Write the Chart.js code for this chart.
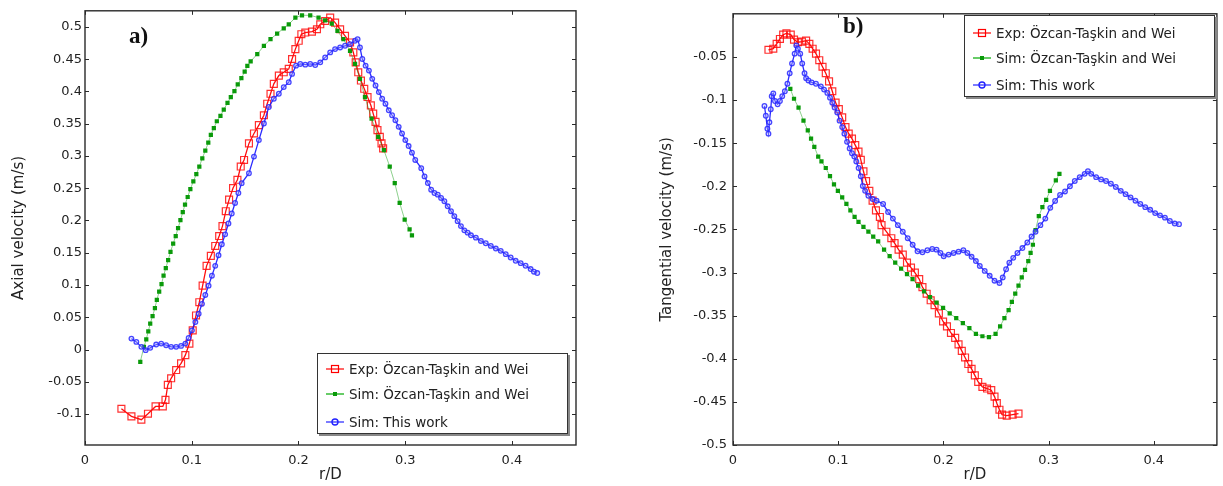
<!DOCTYPE html>
<html><head><meta charset="utf-8">
<script src="https://cdn.jsdelivr.net/npm/chart.js@4"></script>
<style>
body{margin:0;background:#fff;width:1223px;height:486px;overflow:hidden;position:relative;}
canvas{position:absolute;top:0;}
#ca{left:0}
#cb{left:610px}
.lbl{position:absolute;font:bold 23px "Liberation Serif";color:#111;line-height:1;}
.leg{position:absolute;background:#fff;border:1px solid #333;box-shadow:2px 2px 0 #888;}
.row{position:absolute;left:0;height:20px;display:flex;align-items:center;font:13.5px "DejaVu Sans";color:#222;white-space:nowrap}
.row svg{margin-left:8px;margin-right:5px}
</style></head>
<body>
<canvas id="ca" width="600" height="486"></canvas>
<canvas id="cb" width="613" height="486"></canvas>
<div class="lbl" style="left:129px;top:24px">a)</div>
<div class="lbl" style="left:843px;top:14px">b)</div>
<div class="leg" id="legA" style="left:317px;top:353px;width:249px;height:79px"></div>
<div class="leg" id="legB" style="left:964px;top:15px;width:249px;height:80px"></div>
<script>
// ---- tick labels ----
const xTicks = [0, 0.1, 0.2, 0.3, 0.4];
const yTicksA = [-0.1, -0.05, 0, 0.05, 0.1, 0.15, 0.2, 0.25, 0.3, 0.35, 0.4, 0.45, 0.5];
const yTicksB = [-0.5, -0.45, -0.4, -0.35, -0.3, -0.25, -0.2, -0.15, -0.1, -0.05];
const seriesNames = ['Exp: Özcan-Taşkin and Wei', 'Sim: Özcan-Taşkin and Wei', 'Sim: This work'];

// ---- panel a) axial velocity ----
const aExpR = [0.0341,0.0435,0.0528,0.0590,0.0661,0.0729,0.0754,0.0776,0.0807,0.0854,0.0900,0.0940,0.0978,0.1009,0.1040,0.1071,0.1102,0.1139,0.1179,0.1220,0.1257,0.1288,0.1319,0.1350,0.1387,0.1428,0.1459,0.1490,0.1536,0.1583,0.1629,0.1676,0.1707,0.1738,0.1769,0.1816,0.1862,0.1909,0.1940,0.1971,0.2002,0.2027,0.2064,0.2126,0.2173,0.2204,0.2250,0.2297,0.2343,0.2390,0.2436,0.2483,0.2514,0.2536,0.2560,0.2585,0.2616,0.2647,0.2678,0.2700,0.2722,0.2740,0.2762,0.2778,0.2793];
const aExpV = [-0.0918,-0.1036,-0.1087,-0.0995,-0.0882,-0.0882,-0.078,-0.0549,-0.0446,-0.0318,-0.0215,-0.0087,0.0092,0.0297,0.0528,0.0733,0.099,0.1297,0.1451,0.1605,0.1759,0.1913,0.2144,0.2323,0.2503,0.2631,0.2836,0.2938,0.3195,0.3349,0.3477,0.3631,0.381,0.3964,0.4118,0.4246,0.4297,0.4349,0.4503,0.4656,0.4785,0.4887,0.4913,0.4928,0.4964,0.5041,0.5092,0.5144,0.5067,0.4964,0.4862,0.4759,0.4605,0.4451,0.4297,0.4169,0.4041,0.3913,0.3785,0.3656,0.3528,0.34,0.3297,0.3195,0.3118];

const aSimR = [0.0518,0.0552,0.0574,0.0593,0.0611,0.0633,0.0655,0.0673,0.0695,0.0717,0.0736,0.0757,0.0779,0.0801,0.0826,0.0850,0.0872,0.0894,0.0916,0.0937,0.0962,0.0987,0.1015,0.1043,0.1071,0.1099,0.1127,0.1155,0.1179,0.1207,0.1235,0.1269,0.1300,0.1335,0.1366,0.1400,0.1431,0.1465,0.1496,0.1521,0.1552,0.1614,0.1676,0.1738,0.1800,0.1862,0.1909,0.1971,0.2033,0.2110,0.2188,0.2250,0.2312,0.2365,0.2421,0.2483,0.2530,0.2576,0.2623,0.2685,0.2747,0.2800,0.2855,0.2902,0.2948,0.2995,0.3041,0.3063];
const aSimV = [-0.019,0.004,0.0159,0.0282,0.04,0.0518,0.0641,0.0769,0.0897,0.1015,0.1144,0.1262,0.1385,0.1513,0.1641,0.1759,0.1882,0.2005,0.2128,0.2246,0.2364,0.2487,0.2605,0.2718,0.2836,0.2964,0.3082,0.3205,0.3328,0.3431,0.3538,0.3621,0.3718,0.3821,0.3913,0.4005,0.4108,0.4205,0.4308,0.4395,0.4467,0.4579,0.4708,0.481,0.4897,0.4979,0.5041,0.5144,0.518,0.518,0.5144,0.5103,0.5051,0.4938,0.481,0.463,0.4426,0.4195,0.3913,0.358,0.3297,0.3092,0.2836,0.258,0.2272,0.2015,0.1862,0.177];

const aOwnR = [0.0435,0.0481,0.0528,0.0568,0.0611,0.0667,0.0714,0.0760,0.0807,0.0854,0.0900,0.0940,0.0971,0.1002,0.1034,0.1065,0.1096,0.1127,0.1158,0.1189,0.1220,0.1251,0.1282,0.1313,0.1344,0.1375,0.1406,0.1437,0.1468,0.1536,0.1583,0.1629,0.1676,0.1722,0.1769,0.1816,0.1862,0.1909,0.1940,0.1977,0.2017,0.2064,0.2110,0.2157,0.2204,0.2250,0.2297,0.2343,0.2390,0.2436,0.2483,0.2529,0.2554,0.2576,0.2598,0.2629,0.2660,0.2691,0.2722,0.2753,0.2784,0.2815,0.2846,0.2877,0.2908,0.2939,0.2970,0.3001,0.3032,0.3063,0.3094,0.3150,0.3181,0.3212,0.3243,0.3274,0.3305,0.3336,0.3367,0.3398,0.3429,0.3460,0.3491,0.3522,0.3554,0.3585,0.3616,0.3662,0.3709,0.3755,0.3802,0.3849,0.3895,0.3942,0.3988,0.4035,0.4082,0.4128,0.4175,0.4206,0.4237];
const aOwnV = [0.0169,0.0118,0.0041,-0.001,0.0026,0.0077,0.0092,0.0067,0.0041,0.0041,0.0056,0.0092,0.0179,0.0297,0.0426,0.0554,0.0708,0.0846,0.099,0.1144,0.1297,0.1462,0.1631,0.1785,0.1954,0.2108,0.2272,0.2426,0.2579,0.2733,0.299,0.3246,0.3503,0.3759,0.3887,0.3964,0.4067,0.4144,0.4272,0.44,0.4426,0.4415,0.4426,0.441,0.4451,0.4528,0.4605,0.4656,0.4682,0.4708,0.4733,0.4785,0.481,0.4682,0.4503,0.44,0.4323,0.4195,0.4092,0.399,0.3887,0.381,0.3708,0.3631,0.3554,0.3451,0.3349,0.3246,0.3154,0.3051,0.2938,0.2811,0.2683,0.258,0.2477,0.2426,0.24,0.2349,0.2298,0.222,0.2144,0.2067,0.199,0.1913,0.1847,0.1811,0.177,0.1734,0.1683,0.1647,0.1606,0.1565,0.1529,0.1478,0.1426,0.1375,0.1339,0.1298,0.1247,0.1206,0.1185];

// ---- panel b) tangential velocity ----
const bExpR = [0.0337,0.0383,0.0415,0.0446,0.0477,0.0508,0.0549,0.0580,0.0617,0.0655,0.0695,0.0726,0.0757,0.0789,0.0820,0.0851,0.0882,0.0913,0.0944,0.0975,0.1006,0.1038,0.1069,0.1100,0.1131,0.1162,0.1193,0.1215,0.1240,0.1265,0.1296,0.1327,0.1359,0.1396,0.1412,0.1458,0.1505,0.1536,0.1574,0.1614,0.1654,0.1692,0.1729,0.1770,0.1801,0.1841,0.1879,0.1916,0.1957,0.1997,0.2034,0.2072,0.2112,0.2144,0.2175,0.2206,0.2237,0.2268,0.2299,0.2331,0.2371,0.2415,0.2455,0.2486,0.2508,0.2533,0.2558,0.2602,0.2658,0.2714];
const bExpV = [-0.0417,-0.0405,-0.0348,-0.0292,-0.0242,-0.0227,-0.0242,-0.0299,-0.033,-0.0322,-0.0311,-0.0348,-0.0405,-0.0462,-0.0538,-0.0614,-0.0689,-0.0784,-0.0898,-0.103,-0.1106,-0.1201,-0.1314,-0.139,-0.1447,-0.1523,-0.1598,-0.1693,-0.1826,-0.1939,-0.2053,-0.2167,-0.228,-0.2356,-0.2451,-0.2527,-0.2602,-0.2659,-0.2735,-0.2792,-0.2886,-0.2943,-0.3,-0.3076,-0.317,-0.3246,-0.3322,-0.3379,-0.3473,-0.3568,-0.3625,-0.3701,-0.3758,-0.3833,-0.3909,-0.3985,-0.4061,-0.4117,-0.4193,-0.4269,-0.4326,-0.4345,-0.4364,-0.4439,-0.4515,-0.4591,-0.4648,-0.4659,-0.4648,-0.4636];

const bSimR = [0.0545,0.0580,0.0623,0.0670,0.0711,0.0742,0.0773,0.0810,0.0841,0.0882,0.0922,0.0960,0.0997,0.1038,0.1078,0.1116,0.1156,0.1193,0.1240,0.1287,0.1333,0.1380,0.1436,0.1489,0.1542,0.1598,0.1654,0.1707,0.1760,0.1816,0.1873,0.1935,0.1997,0.2060,0.2122,0.2185,0.2247,0.2309,0.2371,0.2433,0.2496,0.2539,0.2580,0.2620,0.2651,0.2683,0.2714,0.2745,0.2776,0.2807,0.2829,0.2851,0.2876,0.2907,0.2941,0.2977,0.3013,0.3069,0.3103];
const bSimV = [-0.0871,-0.0985,-0.1087,-0.1239,-0.1352,-0.1447,-0.1542,-0.1655,-0.1712,-0.1788,-0.1883,-0.1977,-0.2053,-0.2129,-0.2205,-0.228,-0.2356,-0.2413,-0.247,-0.2527,-0.2583,-0.264,-0.2735,-0.2811,-0.2886,-0.2955,-0.3019,-0.3076,-0.3152,-0.322,-0.3284,-0.3348,-0.3409,-0.3473,-0.353,-0.3587,-0.3644,-0.3712,-0.3739,-0.375,-0.3712,-0.3625,-0.353,-0.3436,-0.3341,-0.3246,-0.3152,-0.3057,-0.297,-0.2867,-0.2773,-0.2678,-0.2507,-0.2347,-0.2243,-0.2158,-0.2053,-0.1932,-0.1856];

const bOwnR = [0.0299,0.0312,0.0327,0.0337,0.0346,0.0359,0.0368,0.0383,0.0399,0.0424,0.0446,0.0468,0.0493,0.0517,0.0539,0.0561,0.0586,0.0602,0.0617,0.0639,0.0658,0.0680,0.0695,0.0717,0.0748,0.0789,0.0835,0.0866,0.0897,0.0922,0.0944,0.0966,0.0991,0.1013,0.1038,0.1059,0.1084,0.1109,0.1131,0.1153,0.1172,0.1194,0.1215,0.1234,0.1256,0.1287,0.1327,0.1365,0.1427,0.1474,0.1520,0.1567,0.1614,0.1661,0.1708,0.1754,0.1801,0.1848,0.1894,0.1935,0.1972,0.2003,0.2050,0.2097,0.2144,0.2190,0.2228,0.2268,0.2309,0.2346,0.2393,0.2440,0.2486,0.2533,0.2564,0.2596,0.2627,0.2664,0.2704,0.2751,0.2798,0.2838,0.2876,0.2922,0.2969,0.3016,0.3062,0.3109,0.3156,0.3203,0.3249,0.3296,0.3343,0.3374,0.3405,0.3452,0.3499,0.3546,0.3592,0.3639,0.3686,0.3732,0.3779,0.3826,0.3872,0.3919,0.3966,0.4013,0.4059,0.4106,0.4153,0.4199,0.4240];
const bOwnV = [-0.1068,-0.1182,-0.1333,-0.139,-0.1258,-0.1106,-0.0955,-0.0924,-0.1011,-0.1049,-0.1011,-0.0955,-0.0898,-0.0811,-0.0689,-0.0576,-0.0462,-0.0367,-0.0405,-0.0462,-0.0576,-0.0689,-0.0746,-0.0773,-0.0795,-0.0811,-0.0841,-0.0879,-0.0917,-0.0973,-0.103,-0.1087,-0.1144,-0.1239,-0.1314,-0.139,-0.1485,-0.1561,-0.1617,-0.1655,-0.1712,-0.1788,-0.1883,-0.1996,-0.2053,-0.211,-0.2148,-0.2167,-0.2205,-0.2299,-0.2375,-0.2451,-0.2527,-0.2602,-0.2678,-0.2754,-0.2765,-0.2742,-0.2727,-0.2735,-0.2773,-0.2811,-0.2792,-0.2773,-0.2758,-0.2742,-0.2773,-0.2818,-0.2867,-0.2924,-0.2981,-0.3038,-0.3095,-0.3121,-0.3057,-0.2962,-0.2886,-0.283,-0.2773,-0.2716,-0.2652,-0.2583,-0.2527,-0.2451,-0.2375,-0.225,-0.217,-0.21,-0.206,-0.2,-0.1939,-0.1894,-0.1856,-0.1826,-0.1856,-0.1894,-0.192,-0.1939,-0.197,-0.2008,-0.2053,-0.2091,-0.2129,-0.2167,-0.2205,-0.2242,-0.2273,-0.2311,-0.2337,-0.2364,-0.2402,-0.2432,-0.2439];

// ---- styles ----
const STY = [
  {line:'rgba(255,0,0,0.95)', lw:1.3, pt:'rect', r:4.9, fill:'rgba(255,255,255,0)', stroke:'rgba(255,10,10,0.85)', bw:1.2, order:2},
  {line:'rgba(0,150,0,0.45)', lw:1, pt:'rect', r:3.0, fill:'#0a9a0a', stroke:'#0a9a0a', bw:0, order:1},
  {line:'rgba(20,20,255,0.9)', lw:1.3, pt:'circle', r:2.3, fill:'rgba(190,190,255,0.35)', stroke:'rgba(40,40,255,0.85)', bw:1.3, order:0}
];
const FONT = 'DejaVu Sans';
const TXT = '#222';

function pts(r, v){ return r.map((x,i)=>({x:x, y:v[i]})); }
function ds(i, r, v){
  const s = STY[i];
  return {label:seriesNames[i], data:pts(r,v), showLine:true, borderColor:s.line, borderWidth:s.lw,
    pointStyle:s.pt, pointRadius:s.r, pointHoverRadius:s.r, pointBackgroundColor:s.fill,
    pointBorderColor:s.stroke, pointBorderWidth:s.bw, order:s.order, tension:0};
}

const frame = {id:'frame', afterDraw(chart){
  const {ctx, chartArea:a, scales:{x, y}} = chart;
  ctx.save();
  ctx.strokeStyle = '#2a2a2a';
  ctx.lineWidth = 1.4;
  ctx.strokeRect(a.left, a.top, a.right - a.left, a.bottom - a.top);
  ctx.lineWidth = 1;
  ctx.beginPath();
  x.ticks.forEach(t=>{
    const p = Math.round(x.getPixelForValue(t.value)) + 0.5;
    ctx.moveTo(p, a.bottom); ctx.lineTo(p, a.bottom - 4);
    ctx.moveTo(p, a.top); ctx.lineTo(p, a.top + 4);
  });
  y.ticks.forEach(t=>{
    const p = Math.round(y.getPixelForValue(t.value)) + 0.5;
    ctx.moveTo(a.left, p); ctx.lineTo(a.left + 4, p);
    ctx.moveTo(a.right, p); ctx.lineTo(a.right - 4, p);
  });
  ctx.stroke();
  ctx.restore();
}};

function makeChart(id, datasets, yMin, yMax, yTicks, yTitle, yWidth, yTitlePad, yTickPad, padRight, padTop){
  return new Chart(document.getElementById(id), {
    type:'scatter',
    data:{datasets:datasets},
    options:{
      responsive:false, animation:false, devicePixelRatio:1,
      layout:{padding:{left:0, right:padRight, top:padTop, bottom:0}},
      plugins:{legend:{display:false}, tooltip:{enabled:false}},
      scales:{
        x:{type:'linear', min:0, max:0.46,
          afterBuildTicks:s=>{ s.ticks = xTicks.map(v=>({value:v})); },
          afterFit:s=>{ s.height = 41; },
          grid:{display:false, drawTicks:false}, border:{display:false},
          ticks:{font:{family:FONT, size:13}, color:TXT, padding:8, maxRotation:0, autoSkip:false, callback:v=>String(v)},
          title:{display:true, text:'r/D', font:{family:FONT, size:15}, color:TXT, padding:{top:0, bottom:2}}
        },
        y:{type:'linear', min:yMin, max:yMax,
          afterBuildTicks:s=>{ s.ticks = yTicks.map(v=>({value:v})); },
          afterFit:s=>{ s.width = yWidth; },
          grid:{display:false, drawTicks:false}, border:{display:false},
          ticks:{font:{family:FONT, size:13}, color:TXT, padding:yTickPad, autoSkip:false, callback:v=>String(v)},
          title:{display:true, text:yTitle, font:{family:FONT, size:15}, color:TXT, padding:{top:yTitlePad, bottom:0}}
        }
      }
    },
    plugins:[frame]
  });
}

makeChart('ca', [ds(0,aExpR,aExpV), ds(1,aSimR,aSimV), ds(2,aOwnR,aOwnV)],
  -0.148, 0.525, yTicksA, 'Axial velocity (m/s)', 85, 10, 3, 24, 5);
makeChart('cb', [ds(0,bExpR,bExpV), ds(1,bSimR,bSimV), ds(2,bOwnR,bOwnV)],
  -0.5, 0, yTicksB, 'Tangential velocity (m/s)', 123, 48, 6, 1, 6);

// ---- legends ----
function legendSymbol(i){
  let m = '';
  if (i === 0) m = '<rect x="5.5" y="2.5" width="7" height="7" fill="none" stroke="#f00" stroke-width="1.2"/>';
  if (i === 1) m = '<rect x="7" y="4" width="4" height="4" fill="#0a9a0a"/>';
  if (i === 2) m = '<circle cx="9" cy="6" r="3" fill="none" stroke="#22f" stroke-width="1.4"/>';
  const lc = ['#f00','#0a0','#22f'][i];
  return '<svg width="18" height="12" viewBox="0 0 18 12"><line x1="0" y1="6" x2="18" y2="6" stroke="'+lc+'" stroke-width="1.2"/>'+m+'</svg>';
}
function buildLegend(id, tops){
  const el = document.getElementById(id);
  seriesNames.forEach((n,i)=>{
    const row = document.createElement('div');
    row.className = 'row';
    row.style.top = tops[i] + 'px';
    row.innerHTML = legendSymbol(i) + '<span>' + n + '</span>';
    el.appendChild(row);
  });
}
buildLegend('legA', [5, 30, 58]);
buildLegend('legB', [7, 32, 59]);
</script>
</body></html>
